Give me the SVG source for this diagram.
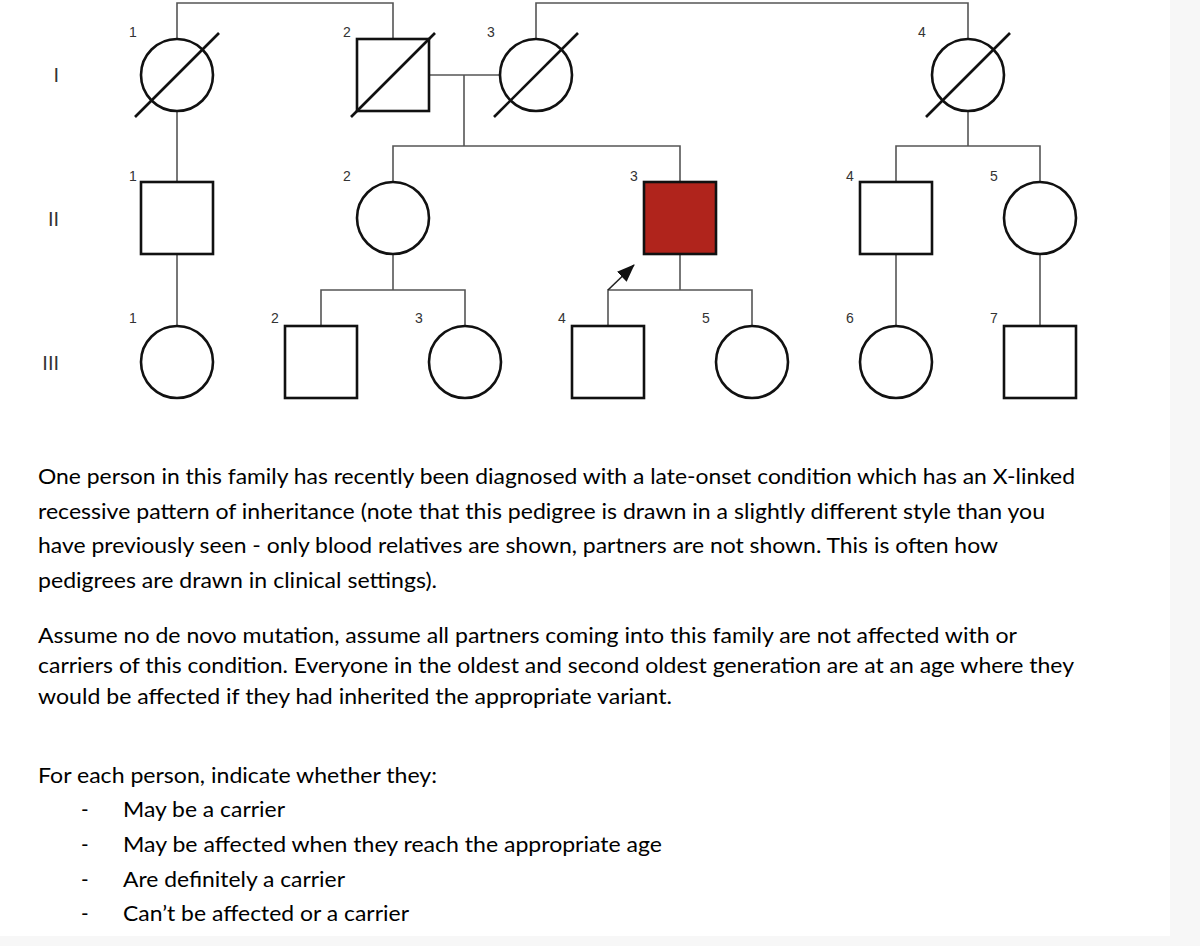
<svg xmlns="http://www.w3.org/2000/svg" width="1200" height="946" viewBox="0 0 1200 946">
<style>
.bg{fill:#f7f7f7}
.page{fill:#ffffff}
.sym{fill:#ffffff;stroke:#111111;stroke-width:2.6}
.aff{fill:#b0241c;stroke:#111111;stroke-width:2.6}
.slash{stroke:#111111;stroke-width:2.6;fill:none}
.con{stroke:#555555;stroke-width:1.6;fill:none}
.num{font-family:"Liberation Sans",Arial,sans-serif;font-size:14px;fill:#333333;text-anchor:middle}
.gen{font-family:"Liberation Sans",Arial,sans-serif;font-size:20px;fill:#333333;text-anchor:end}
.txt{font-family:Lato,"Liberation Sans",sans-serif;font-size:20.5px;fill:#000000}
</style>
<defs>
<marker id="arr" markerUnits="userSpaceOnUse" markerWidth="18" markerHeight="14" refX="17" refY="7" orient="auto">
<path d="M0,0 L18,7 L0,14 Z" fill="#111111"/>
</marker>
</defs>
<rect class="bg" x="0" y="0" width="1200" height="946"/>
<rect class="page" x="0" y="0" width="1170" height="936"/>

<g id="generation-labels">
<text class="gen" x="59" y="82">I</text>
<text class="gen" x="59" y="226">II</text>
<text class="gen" x="59" y="370">III</text>
</g>

<g id="connectors">
<polyline class="con" points="177,39 177,3 393,3 393,39"/>
<polyline class="con" points="536,39 536,3 968,3 968,39"/>
<line class="con" x1="429" y1="75" x2="500" y2="75"/>
<line class="con" x1="464" y1="75" x2="464" y2="146"/>
<polyline class="con" points="393,182 393,146 680,146 680,182"/>
<line class="con" x1="177" y1="111" x2="177" y2="182"/>
<line class="con" x1="968" y1="111" x2="968" y2="146"/>
<polyline class="con" points="896,182 896,146 1040,146 1040,182"/>
<line class="con" x1="177" y1="254" x2="177" y2="326"/>
<line class="con" x1="393" y1="254" x2="393" y2="290"/>
<polyline class="con" points="321,326 321,290 465,290 465,326"/>
<line class="con" x1="680" y1="254" x2="680" y2="290"/>
<polyline class="con" points="608,326 608,290 752,290 752,326"/>
<line class="con" x1="896" y1="254" x2="896" y2="326"/>
<line class="con" x1="1040" y1="254" x2="1040" y2="326"/>
<line class="con" x1="608" y1="290" x2="634" y2="265" marker-end="url(#arr)" style="stroke:#222222"/>
</g>

<g id="I-1"><circle class="sym" cx="177" cy="75" r="36"/><line class="slash" x1="135" y1="117" x2="219" y2="33"/><text class="num" x="133" y="37">1</text></g>
<g id="I-2"><rect class="sym" x="357" y="39" width="72" height="72"/><line class="slash" x1="351" y1="117" x2="435" y2="33"/><text class="num" x="347" y="37">2</text></g>
<g id="I-3"><circle class="sym" cx="536" cy="75" r="36"/><line class="slash" x1="494" y1="117" x2="578" y2="33"/><text class="num" x="491" y="37">3</text></g>
<g id="I-4"><circle class="sym" cx="968" cy="75" r="36"/><line class="slash" x1="926" y1="117" x2="1010" y2="33"/><text class="num" x="922" y="37">4</text></g>

<g id="II-1"><rect class="sym" x="141" y="182" width="72" height="72"/><text class="num" x="133" y="181">1</text></g>
<g id="II-2"><circle class="sym" cx="393" cy="218" r="36"/><text class="num" x="347" y="181">2</text></g>
<g id="II-3"><rect class="aff" x="644" y="182" width="72" height="72"/><text class="num" x="634" y="181">3</text></g>
<g id="II-4"><rect class="sym" x="860" y="182" width="72" height="72"/><text class="num" x="850" y="181">4</text></g>
<g id="II-5"><circle class="sym" cx="1040" cy="218" r="36"/><text class="num" x="994" y="181">5</text></g>

<g id="III-1"><circle class="sym" cx="177" cy="362" r="36"/><text class="num" x="133" y="323">1</text></g>
<g id="III-2"><rect class="sym" x="285" y="326" width="72" height="72"/><text class="num" x="275" y="323">2</text></g>
<g id="III-3"><circle class="sym" cx="465" cy="362" r="36"/><text class="num" x="419" y="323">3</text></g>
<g id="III-4"><rect class="sym" x="572" y="326" width="72" height="72"/><text class="num" x="562" y="323">4</text></g>
<g id="III-5"><circle class="sym" cx="752" cy="362" r="36"/><text class="num" x="706" y="323">5</text></g>
<g id="III-6"><circle class="sym" cx="896" cy="362" r="36"/><text class="num" x="850" y="323">6</text></g>
<g id="III-7"><rect class="sym" x="1004" y="326" width="72" height="72"/><text class="num" x="994" y="323">7</text></g>

<g id="question-text">
<text class="txt" x="38" y="484" textLength="1037" lengthAdjust="spacingAndGlyphs">One person in this family has recently been diagnosed with a late-onset condition which has an X-linked</text>
<text class="txt" x="38" y="518.5" textLength="1007" lengthAdjust="spacingAndGlyphs">recessive pattern of inheritance (note that this pedigree is drawn in a slightly different style than you</text>
<text class="txt" x="38" y="553" textLength="960" lengthAdjust="spacingAndGlyphs">have previously seen - only blood relatives are shown, partners are not shown. This is often how</text>
<text class="txt" x="38" y="587.5" textLength="399" lengthAdjust="spacingAndGlyphs">pedigrees are drawn in clinical settings).</text>
<text class="txt" x="38" y="643" textLength="979" lengthAdjust="spacingAndGlyphs">Assume no de novo mutation, assume all partners coming into this family are not affected with or</text>
<text class="txt" x="38" y="673" textLength="1036" lengthAdjust="spacingAndGlyphs">carriers of this condition. Everyone in the oldest and second oldest generation are at an age where they</text>
<text class="txt" x="38" y="703.5" textLength="634" lengthAdjust="spacingAndGlyphs">would be affected if they had inherited the appropriate variant.</text>
<text class="txt" x="38" y="782.5" textLength="399" lengthAdjust="spacingAndGlyphs">For each person, indicate whether they:</text>
<text class="txt" x="81" y="817">-</text>
<text class="txt" x="123" y="817" textLength="162" lengthAdjust="spacingAndGlyphs">May be a carrier</text>
<text class="txt" x="81" y="852">-</text>
<text class="txt" x="123" y="852" textLength="539" lengthAdjust="spacingAndGlyphs">May be affected when they reach the appropriate age</text>
<text class="txt" x="81" y="886.5">-</text>
<text class="txt" x="123" y="886.5" textLength="222" lengthAdjust="spacingAndGlyphs">Are definitely a carrier</text>
<text class="txt" x="81" y="920.5">-</text>
<text class="txt" x="123" y="920.5" textLength="286" lengthAdjust="spacingAndGlyphs">Can’t be affected or a carrier</text>
</g>
</svg>
